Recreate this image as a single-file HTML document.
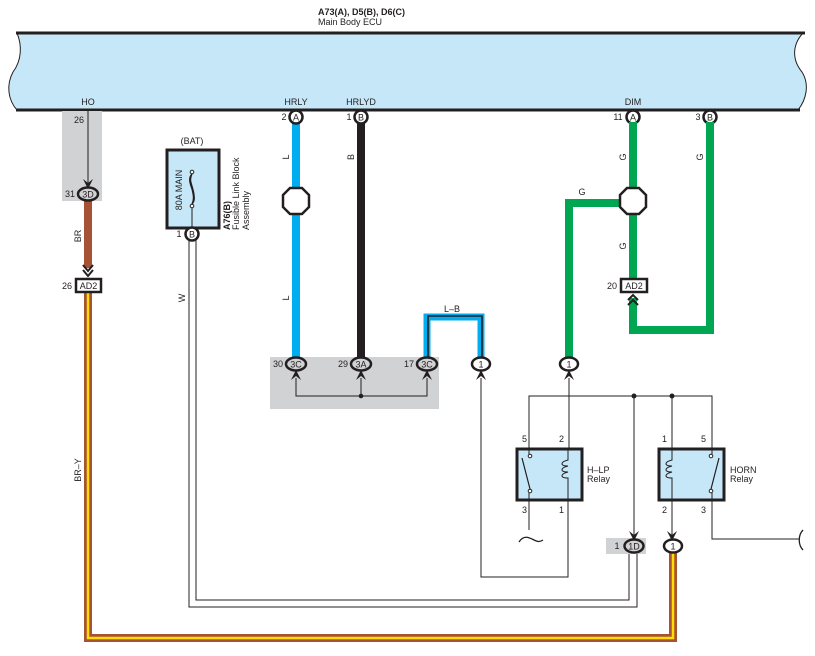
<!DOCTYPE html>
<html><head><meta charset="utf-8"><style>
html,body{margin:0;padding:0;background:#fff}
svg{display:block;font-family:"Liberation Sans",Arial,sans-serif}
</style></head><body>
<svg width="815" height="656" viewBox="0 0 815 656" xmlns="http://www.w3.org/2000/svg">
<defs>
<g id="up"><path d="M-5,10 L0,0 L5,10 L0,6 Z" fill="#231f20"/></g>
<g id="dn"><path d="M-5,-10 L0,0 L5,-10 L0,-6 Z" fill="#231f20"/></g>
</defs>
<text x="318" y="15" font-size="9" font-weight="bold" fill="#231f20">A73(A), D5(B), D6(C)</text>
<text x="318" y="25" font-size="9" fill="#231f20">Main Body ECU</text>
<path d="M17,33 L803,33 C792,45 792,60 802,72 C810,85 806,100 798,110 L17,110 C8,100 6,85 13,72 C22,60 22,45 17,33 Z" fill="#c6e7f8" stroke="none"/>
<line x1="16" y1="33" x2="805" y2="33" stroke="#231f20" stroke-width="3"/>
<line x1="16" y1="110" x2="800" y2="110" stroke="#231f20" stroke-width="3"/>
<path d="M17,33 C22,45 22,60 13,72 C6,85 8,100 17,110" fill="none" stroke="#231f20" stroke-width="1"/>
<path d="M803,33 C792,45 792,60 802,72 C810,85 806,100 798,110" fill="none" stroke="#231f20" stroke-width="1"/>
<g font-size="9" fill="#231f20" text-anchor="middle">
<text x="88" y="105">HO</text><text x="296" y="105">HRLY</text><text x="361" y="105">HRLYD</text><text x="633" y="105">DIM</text>
</g>

<rect x="62" y="111" width="40" height="90" fill="#d1d2d4"/>
<text x="79" y="123" font-size="9" text-anchor="middle" fill="#231f20">26</text>
<line x1="88" y1="111" x2="88" y2="184" stroke="#231f20" stroke-width="1"/>
<use href="#dn" x="88" y="189"/>
<line x1="88" y1="201" x2="88" y2="268" stroke="#a65335" stroke-width="8"/>
<polyline points="83,265 88,271 93,265" fill="none" stroke="#231f20" stroke-width="2"/>
<polyline points="83,270 88,276 93,270" fill="none" stroke="#231f20" stroke-width="2"/>
<text x="81" y="236" font-size="9" fill="#231f20" transform="rotate(-90 81 236)" text-anchor="middle">BR</text>
<ellipse cx="88" cy="194" rx="10" ry="6.5" fill="#d1d2d4" stroke="#231f20" stroke-width="2.5"/>
<text x="88" y="197.5" font-size="9" text-anchor="middle" fill="#231f20">3D</text>
<text x="70" y="197" font-size="9" text-anchor="middle" fill="#231f20">31</text>
<path d="M88,292 L88,638 L673,638 L673,553" fill="none" stroke="#a65335" stroke-width="8"/>
<path d="M88,292 L88,638 L673,638 L673,553" fill="none" stroke="#ffdd00" stroke-width="2.5"/>
<text x="81" y="470" font-size="9" fill="#231f20" transform="rotate(-90 81 470)" text-anchor="middle">BR–Y</text>
<rect x="76" y="279" width="25" height="13" fill="#fff" stroke="#231f20" stroke-width="2.5"/>
<text x="88.5" y="289" font-size="9" text-anchor="middle" fill="#231f20">AD2</text>
<text x="67" y="289" font-size="9" text-anchor="middle" fill="#231f20">26</text>

<text x="192" y="144" font-size="9" text-anchor="middle" fill="#231f20">(BAT)</text>
<rect x="167" y="150" width="52" height="78" fill="#c6e7f8" stroke="#231f20" stroke-width="3"/>
<text x="182" y="190" font-size="9" fill="#231f20" transform="rotate(-90 182 190)" text-anchor="middle">80A MAIN</text>
<circle cx="192" cy="172" r="1.8" fill="#fff" stroke="#231f20" stroke-width="1"/>
<circle cx="192" cy="206" r="1.8" fill="#fff" stroke="#231f20" stroke-width="1"/>
<path d="M192,174 C184,182 200,196 192,204 M192,174 C187,184 197,194 192,204 M192,174 C186,180 199,194 192,204" fill="none" stroke="#231f20" stroke-width="1.3"/>
<line x1="192" y1="208" x2="192" y2="228" stroke="#231f20" stroke-width="1"/>
<g font-size="9" fill="#231f20">
<text x="0" y="0" transform="translate(230,230) rotate(-90)" font-weight="bold">A76(B)</text>
<text x="0" y="0" transform="translate(239,230) rotate(-90)">Fusible Link Block</text>
<text x="0" y="0" transform="translate(249,230) rotate(-90)">Assembly</text>
</g>
<path d="M189,240 L189,607 L637,607 L637,553" fill="none" stroke="#231f20" stroke-width="1"/>
<path d="M196,240 L196,600 L629,600 L629,553" fill="none" stroke="#231f20" stroke-width="1"/>
<text x="185" y="298" font-size="9" fill="#231f20" transform="rotate(-90 185 298)" text-anchor="middle">W</text>
<circle cx="192" cy="234" r="6.5" fill="#fff" stroke="#231f20" stroke-width="2.5"/>
<text x="192" y="237.5" font-size="9" text-anchor="middle" fill="#231f20">B</text>
<text x="179" y="237" font-size="9" text-anchor="middle" fill="#231f20">1</text>

<rect x="270" y="357" width="169" height="52" fill="#d1d2d4"/>
<line x1="296" y1="122" x2="296" y2="358" stroke="#00aeef" stroke-width="8"/>
<polygon points="290,188 302,188 309,195 309,207 302,214 290,214 283,207 283,195" fill="#fff" stroke="#231f20" stroke-width="2.5"/>
<text x="289" y="157" font-size="9" fill="#231f20" transform="rotate(-90 289 157)" text-anchor="middle">L</text>
<text x="289" y="298" font-size="9" fill="#231f20" transform="rotate(-90 289 298)" text-anchor="middle">L</text>
<line x1="361" y1="122" x2="361" y2="358" stroke="#231f20" stroke-width="8"/>
<text x="354" y="157" font-size="9" fill="#231f20" transform="rotate(-90 354 157)" text-anchor="middle">B</text>
<path d="M427,358 L427,317 L481,317 L481,358" fill="none" stroke="#00aeef" stroke-width="7"/>
<path d="M427,358 L427,317 L481,317 L481,358" fill="none" stroke="#231f20" stroke-width="1.6" transform="translate(1,-1)"/>
<text x="452" y="312" font-size="9" text-anchor="middle" fill="#231f20">L–B</text>

<g font-size="9" fill="#231f20" text-anchor="middle">
<circle cx="296" cy="117" r="6.5" fill="#fff" stroke="#231f20" stroke-width="2.5"/><text x="296" y="120.5">A</text><text x="284" y="120">2</text>
<circle cx="361" cy="117" r="6.5" fill="#fff" stroke="#231f20" stroke-width="2.5"/><text x="361" y="120.5">B</text><text x="349" y="120">1</text>
<circle cx="633" cy="117" r="6.5" fill="#fff" stroke="#231f20" stroke-width="2.5"/><text x="633" y="120.5">A</text><text x="618" y="120">11</text>
<circle cx="710" cy="117" r="6.5" fill="#fff" stroke="#231f20" stroke-width="2.5"/><text x="710" y="120.5">B</text><text x="698" y="120">3</text>
</g>

<path d="M633,122 L633,280" fill="none" stroke="#00a651" stroke-width="8"/>
<path d="M620,203 L569,203 L569,358" fill="none" stroke="#00a651" stroke-width="8"/>
<path d="M633,298 L633,330 L710,330 L710,122" fill="none" stroke="#00a651" stroke-width="8"/>
<polygon points="627,188 639,188 646,195 646,207 639,214 627,214 620,207 620,195" fill="#fff" stroke="#231f20" stroke-width="2.5"/>
<g font-size="9" fill="#231f20" text-anchor="middle">
<text x="582" y="195">G</text>
<text x="626" y="157" transform="rotate(-90 626 157)">G</text>
<text x="626" y="246" transform="rotate(-90 626 246)">G</text>
<text x="703" y="157" transform="rotate(-90 703 157)">G</text>
</g>
<rect x="621" y="279" width="26" height="13" fill="#fff" stroke="#231f20" stroke-width="2.5"/>
<text x="634" y="289" font-size="9" text-anchor="middle" fill="#231f20">AD2</text>
<text x="612" y="289" font-size="9" text-anchor="middle" fill="#231f20">20</text>
<polyline points="628,300 633,295 638,300" fill="none" stroke="#231f20" stroke-width="2"/>
<polyline points="628,305 633,300 638,305" fill="none" stroke="#231f20" stroke-width="2"/>

<g font-size="9" fill="#231f20" text-anchor="middle">
<ellipse cx="296" cy="364" rx="10" ry="6.5" fill="#d1d2d4" stroke="#231f20" stroke-width="2.5"/><text x="296" y="367.5">3C</text><text x="278" y="367">30</text>
<ellipse cx="361" cy="364" rx="10" ry="6.5" fill="#d1d2d4" stroke="#231f20" stroke-width="2.5"/><text x="361" y="367.5">3A</text><text x="343" y="367">29</text>
<ellipse cx="427" cy="364" rx="10" ry="6.5" fill="#d1d2d4" stroke="#231f20" stroke-width="2.5"/><text x="427" y="367.5">3C</text><text x="409" y="367">17</text>
<ellipse cx="481" cy="364" rx="9" ry="6.5" fill="#fff" stroke="#231f20" stroke-width="2.5"/><text x="481" y="367.5">1</text>
<ellipse cx="569" cy="364" rx="9" ry="6.5" fill="#fff" stroke="#231f20" stroke-width="2.5"/><text x="569" y="367.5">1</text>
</g>
<use href="#up" x="296" y="370"/><use href="#up" x="361" y="370"/><use href="#up" x="427" y="370"/>
<use href="#up" x="481" y="370"/><use href="#up" x="569" y="370"/>
<g fill="none" stroke="#231f20" stroke-width="1">
<path d="M296,378 L296,396 L427,396 L427,378 M361,378 L361,396"/>
<path d="M481,378 L481,577 L568,577 L568,501"/>
<path d="M569,378 L569,448"/>
<path d="M529,448 L529,396 L712,396 L712,448"/>
<path d="M634,396 L634,536"/>
<path d="M672,396 L672,448 M672,501 L672,536"/>
<path d="M529,501 L529,530"/>
<path d="M712,501 L712,539 L800,539"/>
<path d="M519,542 C524,534 530,538 534,540 C538,542 540,542 543,540" stroke-width="1.3"/>
<path d="M803,530 C798,535 798,545 803,550" stroke-width="1.3"/>
</g>
<circle cx="361" cy="396" r="2.3" fill="#231f20"/>
<circle cx="634" cy="396" r="2.5" fill="#231f20"/>
<circle cx="672" cy="396" r="2.5" fill="#231f20"/>

<rect x="517" y="449" width="65" height="51" fill="#c6e7f8" stroke="#231f20" stroke-width="3"/>
<circle cx="530" cy="456" r="1.8" fill="#fff" stroke="#231f20" stroke-width="1"/>
<circle cx="530" cy="491" r="1.8" fill="#fff" stroke="#231f20" stroke-width="1"/>
<line x1="530" y1="489" x2="522" y2="458" stroke="#231f20" stroke-width="1.2"/>
<line x1="529" y1="493" x2="529" y2="500" stroke="#231f20" stroke-width="1"/>
<path d="M568,449 L568,460 C560,462 560,466 568,466 C560,468 560,472 568,472 C560,474 560,478 568,478 L568,500" fill="none" stroke="#231f20" stroke-width="1"/>
<g font-size="9" fill="#231f20">
<text x="587" y="473">H–LP</text><text x="587" y="482">Relay</text>
<text x="522" y="442">5</text><text x="559" y="442">2</text>
<text x="522" y="513">3</text><text x="559" y="513">1</text>
</g>
<rect x="659" y="449" width="65" height="51" fill="#c6e7f8" stroke="#231f20" stroke-width="3"/>
<circle cx="711" cy="456" r="1.8" fill="#fff" stroke="#231f20" stroke-width="1"/>
<circle cx="711" cy="491" r="1.8" fill="#fff" stroke="#231f20" stroke-width="1"/>
<line x1="711" y1="489" x2="719" y2="458" stroke="#231f20" stroke-width="1.2"/>
<line x1="712" y1="449" x2="712" y2="454" stroke="#231f20" stroke-width="1"/>
<line x1="712" y1="493" x2="712" y2="500" stroke="#231f20" stroke-width="1"/>
<path d="M672,449 L672,460 C664,462 664,466 672,466 C664,468 664,472 672,472 C664,474 664,478 672,478 L672,500" fill="none" stroke="#231f20" stroke-width="1"/>
<line x1="529" y1="449" x2="529" y2="454" stroke="#231f20" stroke-width="1"/>
<g font-size="9" fill="#231f20">
<text x="730" y="473">HORN</text><text x="730" y="482">Relay</text>
<text x="662" y="442">1</text><text x="701" y="442">5</text>
<text x="662" y="513">2</text><text x="701" y="513">3</text>
</g>

<rect x="606" y="538" width="40" height="16" fill="#d1d2d4"/>
<use href="#dn" x="634" y="541"/><use href="#dn" x="672" y="541"/>
<g font-size="9" fill="#231f20" text-anchor="middle">
<ellipse cx="634" cy="546" rx="9.5" ry="6.5" fill="#d1d2d4" stroke="#231f20" stroke-width="2.5"/><text x="634" y="549.5">1D</text><text x="617" y="549">1</text>
<ellipse cx="673" cy="546" rx="9" ry="6.5" fill="#fff" stroke="#231f20" stroke-width="2.5"/><text x="673" y="549.5">1</text>
</g>
</svg>
</body></html>
